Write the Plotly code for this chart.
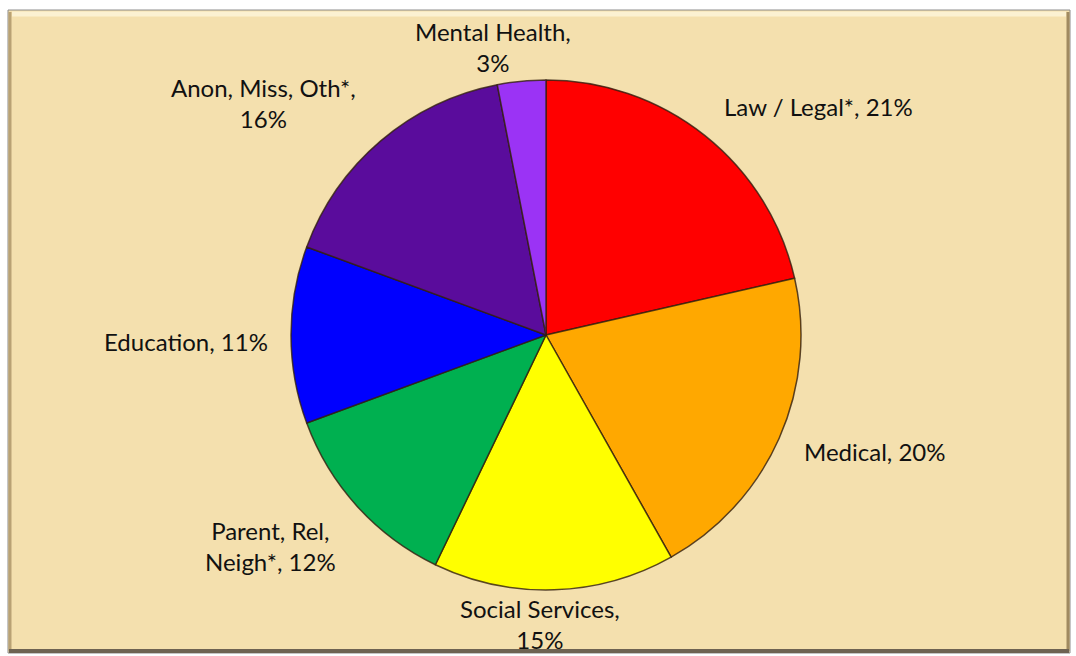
import plotly.graph_objects as go

labels = ["Law / Legal*", "Medical", "Social Services", "Parent, Rel, Neigh*",
          "Education", "Anon, Miss, Oth*", "Mental Health"]
values = [21, 20, 15, 12, 11, 16, 3]
colors = ["#FF0000", "#FFA800", "#FFFF00", "#00B050", "#0000FF", "#5A0C9C", "#9B33F5"]

# label text layout (line breaks) and label anchor positions in pixels (layout only)
label_text = ["Law / Legal*, {v}%", "Medical, {v}%", "Social Services,<br>{v}%",
              "Parent, Rel,<br>Neigh*, {v}%", "Education, {v}%",
              "Anon, Miss, Oth*,<br>{v}%", "Mental Health,<br>{v}%"]
label_xy = [(818, 107), (875, 452), (540, 624), (270, 546), (186, 341), (263, 103), (493, 47)]

W, H = 1076, 656
fig = go.Figure(go.Pie(
    labels=labels, values=values, sort=False, direction="clockwise", rotation=0,
    marker=dict(colors=colors, line=dict(color="rgba(50,30,15,0.8)", width=1.5)),
    textinfo="none", showlegend=False, hoverinfo="label+value",
    domain=dict(x=[291 / W, 801 / W], y=[(H - 590) / H, (H - 80) / H]),
))

annotations = [
    dict(x=px / W, y=1 - py / H, xref="paper", yref="paper", showarrow=False,
         text=t.format(v=v), align="center", xanchor="center", yanchor="middle",
         font=dict(family="Lato", size=24, color="#111111"))
    for t, v, (px, py) in zip(label_text, values, label_xy)
]

shapes = [
    dict(type="rect", xref="paper", yref="paper", layer="below",
         x0=8 / W, x1=1070 / W, y0=1 - 653 / H, y1=1 - 10 / H,
         fillcolor="#F4E0AE", line=dict(color="#8C8C8C", width=1)),
    dict(type="line", xref="paper", yref="paper", layer="below",
         x0=12 / W, x1=1066 / W, y0=1 - 14 / H, y1=1 - 14 / H,
         line=dict(color="#FBF1D2", width=5)),
    dict(type="line", xref="paper", yref="paper", layer="below",
         x0=10 / W, x1=10 / W, y0=1 - 651 / H, y1=1 - 12 / H,
         line=dict(color="#B9A274", width=3)),
    dict(type="line", xref="paper", yref="paper", layer="below",
         x0=1068 / W, x1=1068 / W, y0=1 - 651 / H, y1=1 - 12 / H,
         line=dict(color="#A08A60", width=3)),
    dict(type="line", xref="paper", yref="paper", layer="below",
         x0=9 / W, x1=1069 / W, y0=1 - 651 / H, y1=1 - 651 / H,
         line=dict(color="#6E6352", width=4)),
]

fig.update_layout(
    width=W, height=H, margin=dict(l=0, r=0, t=0, b=0),
    paper_bgcolor="white", plot_bgcolor="white", shapes=shapes,
    annotations=annotations, font=dict(family="Lato"),
)
fig.write_html("out.html", config={"displayModeBar": False},
               post_script="document.body.style.margin='0';")
